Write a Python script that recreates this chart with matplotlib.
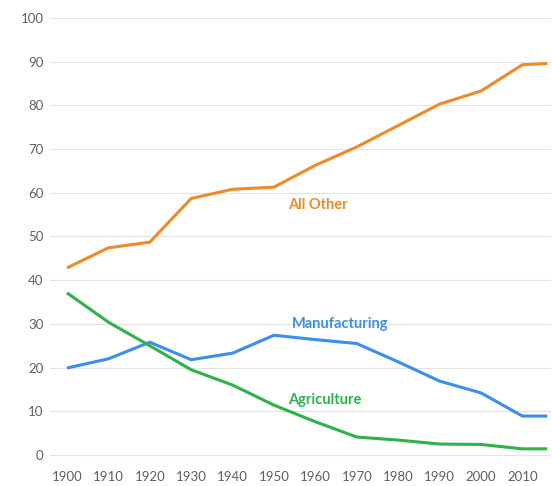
import matplotlib
matplotlib.use("Agg")
import matplotlib.pyplot as plt

years = [1900, 1910, 1920, 1930, 1940, 1950, 1960, 1970, 1980, 1990, 2000, 2010, 2016]
all_other = [42.8, 47.4, 48.7, 58.7, 60.8, 61.3, 66.3, 70.5, 75.4, 80.3, 83.3, 89.3, 89.6]
manufacturing = [19.9, 22.0, 25.8, 21.8, 23.3, 27.4, 26.4, 25.5, 21.3, 16.9, 14.2, 8.9, 8.9]
agriculture = [37.1, 30.4, 25.0, 19.5, 16.0, 11.4, 7.6, 4.1, 3.4, 2.5, 2.4, 1.4, 1.4]

x_ticks = list(range(1900, 2011, 10))
y_ticks = list(range(0, 101, 10))

ORANGE = "#EE8A2A"
BLUE = "#3B8EEA"
GREEN = "#2EB34A"
GREY = "#606060"

plt.rcParams["font.family"] = ["Lato", "DejaVu Sans"]

fig = plt.figure(figsize=(5.52, 4.86), dpi=100)
ax = fig.add_axes([0.0913, 0.0459, 0.9076, 0.926])

ax.plot(years, all_other, color=ORANGE, lw=2.2, solid_capstyle="butt")
ax.plot(years, manufacturing, color=BLUE, lw=2.2, solid_capstyle="butt")
ax.plot(years, agriculture, color=GREEN, lw=2.2, solid_capstyle="butt")

ax.text(1960.6, 57.2, "All Other", color=ORANGE, fontsize=10.5, fontweight="bold",
        ha="center", va="center")
ax.text(1966.0, 30.0, "Manufacturing", color=BLUE, fontsize=10.5, fontweight="bold",
        ha="center", va="center")
ax.text(1962.3, 12.6, "Agriculture", color=GREEN, fontsize=10.5, fontweight="bold",
        ha="center", va="center")

ax.set_xlim(1896, 2017)
ax.set_ylim(-2, 101)
ax.set_xticks(x_ticks)
ax.set_yticks(y_ticks)
ax.tick_params(axis="both", length=0, colors=GREY, labelsize=9.5)
ax.tick_params(axis="y", pad=5)
ax.tick_params(axis="x", pad=5)
ax.grid(axis="y", color="#E3E3E3", lw=0.8)
ax.set_axisbelow(True)
for s in ax.spines.values():
    s.set_visible(False)

fig.savefig("out.png", dpi=100, facecolor="white")
